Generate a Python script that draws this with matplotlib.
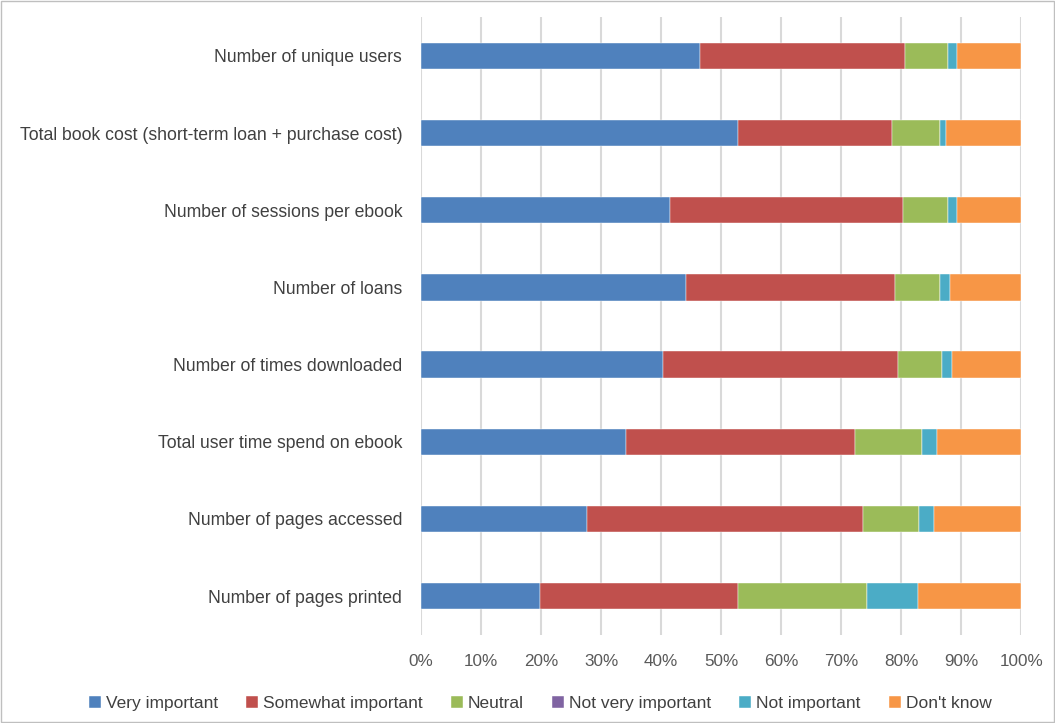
import matplotlib.pyplot as plt
import numpy as np
from matplotlib.patches import Rectangle

categories = ['Number of unique users',
              'Total book cost (short-term loan + purchase cost)',
              'Number of sessions per ebook',
              'Number of loans',
              'Number of times downloaded',
              'Total user time spend on ebook',
              'Number of pages accessed',
              'Number of pages printed']

very_important = [46.5, 52.8, 41.5, 44.2, 40.3, 34.2, 27.7, 19.8]
somewhat_important = [34.2, 25.7, 38.8, 34.8, 39.2, 38.1, 46.0, 33.0]
neutral = [7.1, 8.0, 7.5, 7.5, 7.3, 11.2, 9.3, 21.5]
not_very_important = [0, 0, 0, 0, 0, 0, 0, 0]
not_important = [1.5, 1.0, 1.5, 1.7, 1.7, 2.5, 2.5, 8.5]
dont_know = [10.7, 12.5, 10.7, 11.8, 11.5, 14.0, 14.5, 17.2]

series = ['Very important', 'Somewhat important', 'Neutral',
          'Not very important', 'Not important', "Don't know"]
values = [very_important, somewhat_important, neutral,
          not_very_important, not_important, dont_know]
colors = ['#4F81BD', '#C0504D', '#9BBB59', '#8064A2', '#4BACC6', '#F79646']

plt.rcParams['font.family'] = ['Liberation Sans', 'DejaVu Sans']

fig = plt.figure(figsize=(10.55, 7.23), dpi=100)
ax = fig.add_axes([0.399, 0.1223, 0.569, 0.8537])

y = np.arange(len(categories))
left = np.zeros(len(categories))
for name, vals, col in zip(series, values, colors):
    vals = np.array(vals, dtype=float)
    ax.barh(y, vals, left=left, height=0.34, color=col, label=name,
            edgecolor='white', linewidth=0.3, zorder=3)
    left += vals

ax.set_ylim(len(categories) - 0.5, -0.5)
ax.set_xlim(0, 100)
ax.set_yticks(y)
ax.set_yticklabels(categories, fontsize=12.7, color='#404040')
ax.set_xticks(np.arange(0, 101, 10))
ax.set_xticklabels([f'{v}%' for v in range(0, 101, 10)], fontsize=12.3, color='#595959')
ax.tick_params(axis='y', length=0, pad=13.5)
ax.tick_params(axis='x', length=0, pad=14)
ax.grid(axis='x', color='#d9d9d9', linewidth=1.5, zorder=0)
for s in ax.spines.values():
    s.set_visible(False)

ax.legend(loc='center', bbox_to_anchor=(0.512, 0.027), bbox_transform=fig.transFigure,
          ncol=6, frameon=False, fontsize=12.5, handlelength=0.7, handleheight=0.7,
          handletextpad=0.3, columnspacing=1.6, labelcolor='#404040')

fig.patches.append(Rectangle((0.001, 0.001), 0.998, 0.998, transform=fig.transFigure,
                             fill=False, edgecolor='#bfbfbf', linewidth=1))

fig.savefig('out.png', dpi=100)
